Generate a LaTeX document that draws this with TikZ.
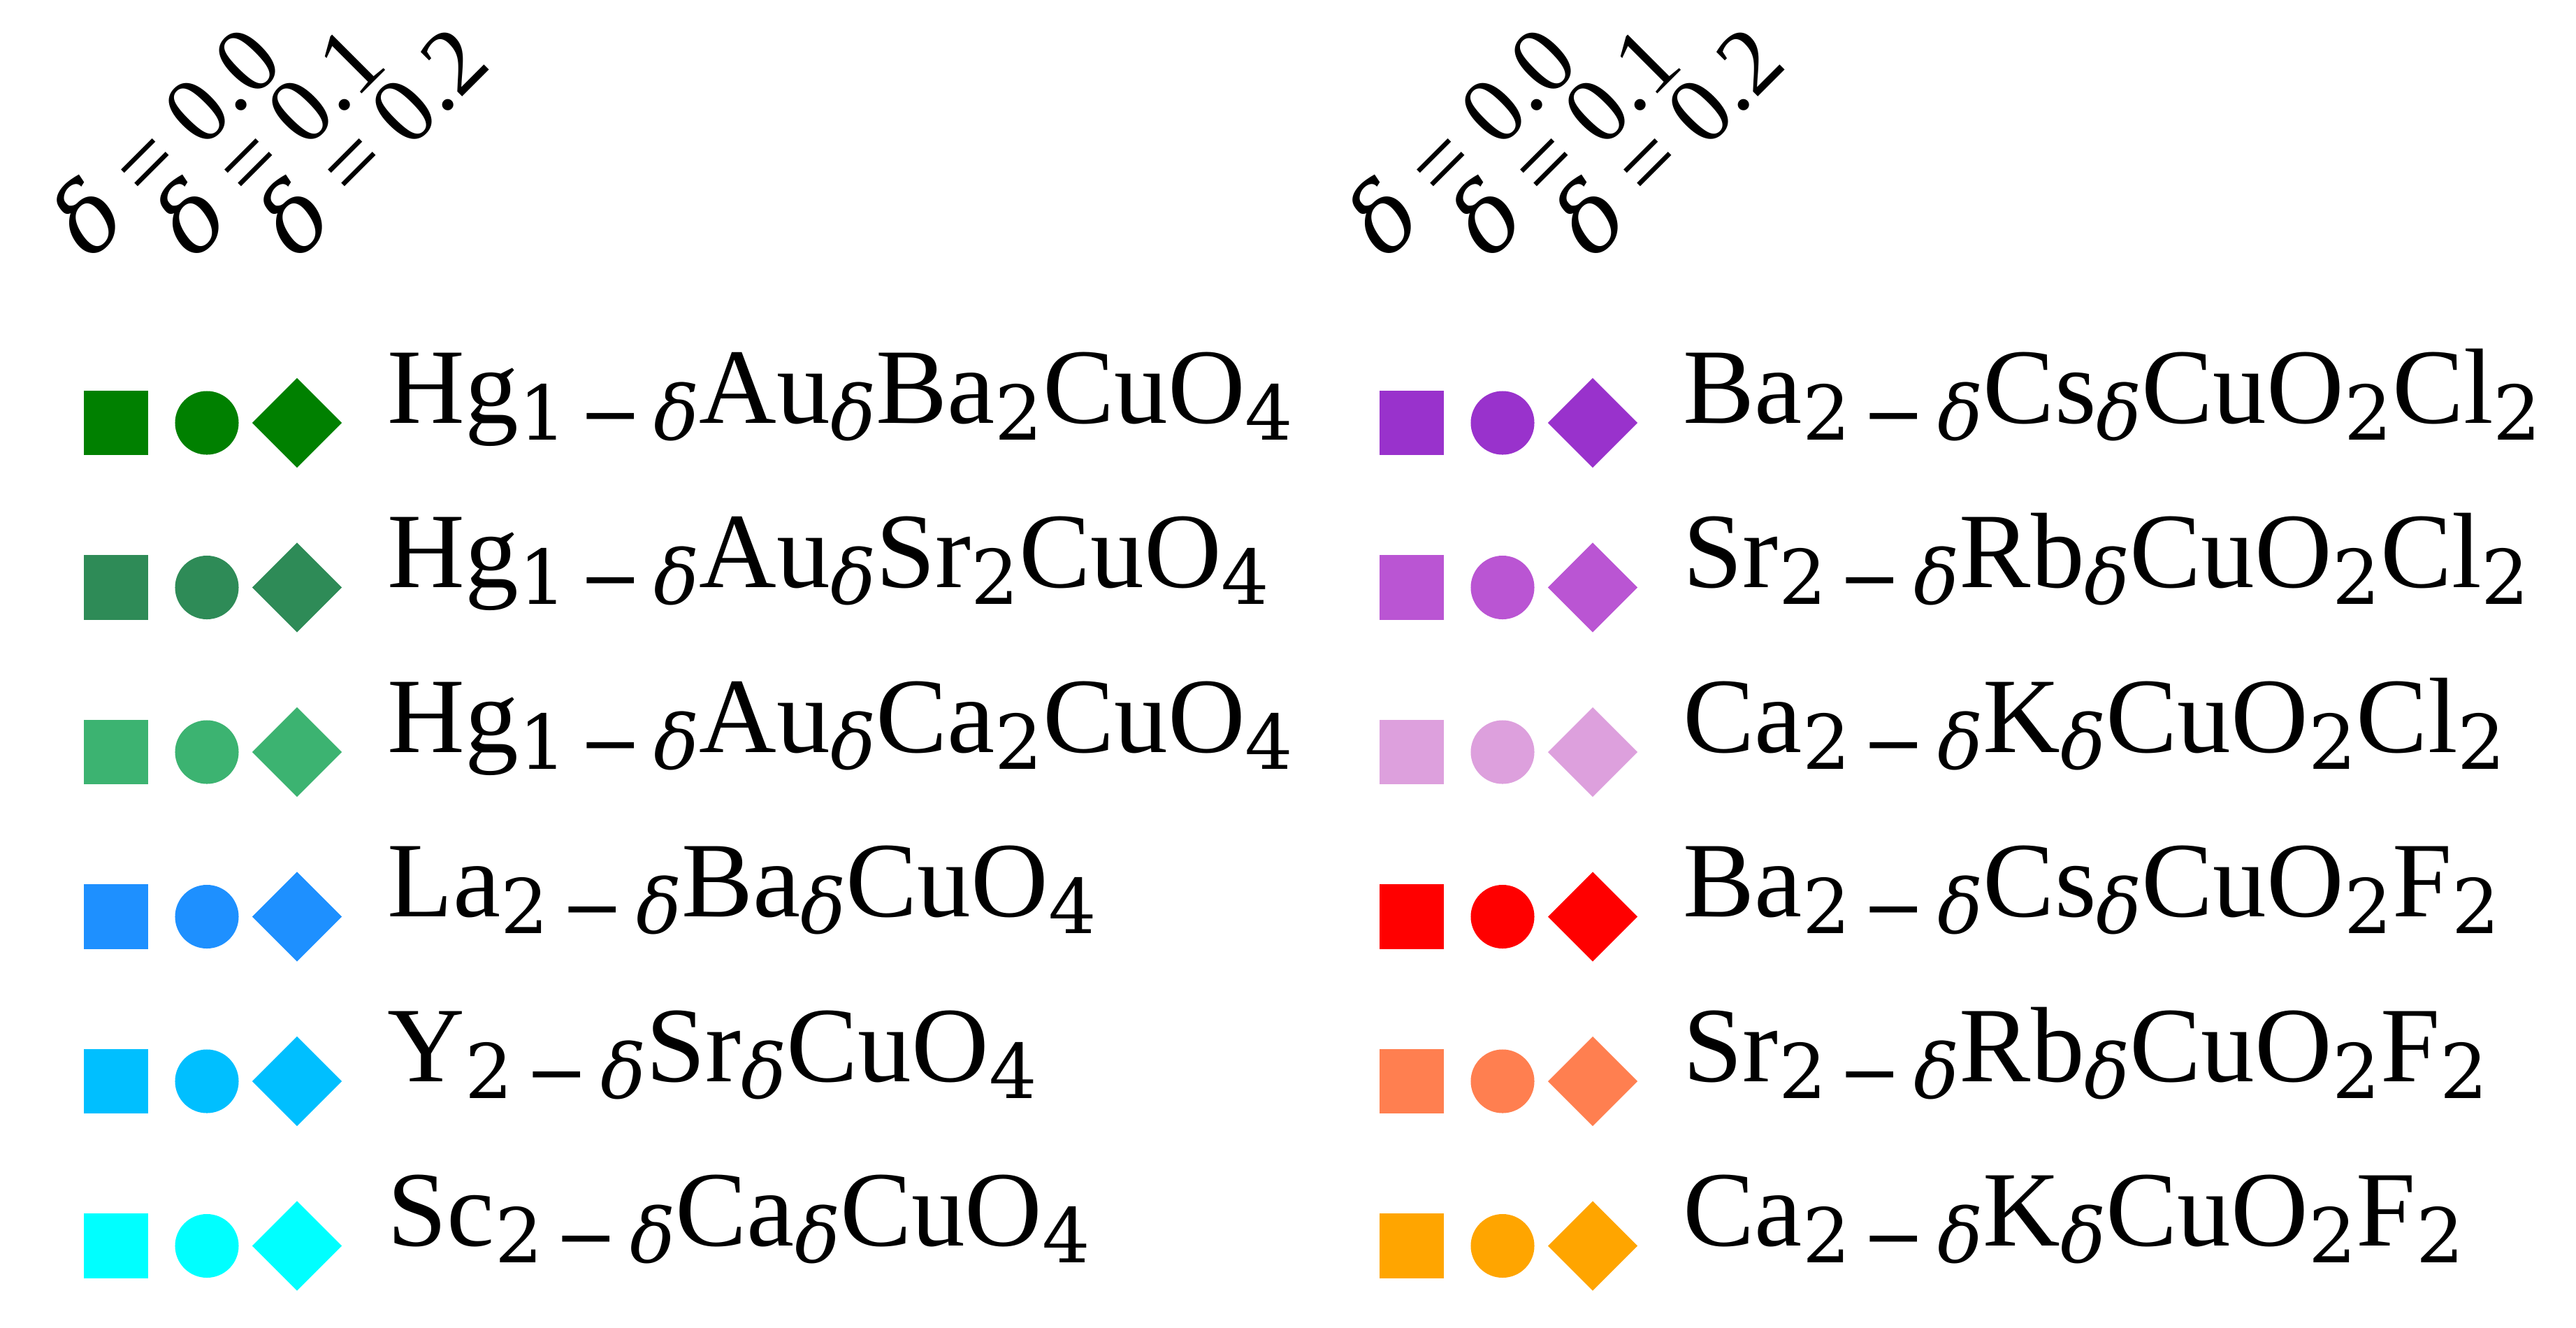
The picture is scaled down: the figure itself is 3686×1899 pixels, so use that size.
\documentclass[tikz,border=0pt]{standalone}
\usepackage{fontspec}
\setmainfont{Liberation Serif}
\newfontfamily\subf{DejaVu Serif}
\usetikzlibrary{shapes.geometric}
\definecolor{cGreen}{HTML}{008000}
\definecolor{cSeaGreen}{HTML}{2E8B57}
\definecolor{cMedSeaGreen}{HTML}{3CB371}
\definecolor{cDodger}{HTML}{1E90FF}
\definecolor{cDeepSky}{HTML}{00BFFF}
\definecolor{cCyan}{HTML}{00FFFF}
\definecolor{cDarkOrchid}{HTML}{9932CC}
\definecolor{cMedOrchid}{HTML}{BA55D3}
\definecolor{cPlum}{HTML}{DDA0DD}
\definecolor{cRed}{HTML}{FF0000}
\definecolor{cCoral}{HTML}{FF7F50}
\definecolor{cOrange}{HTML}{FFA500}
\newcommand\sbs[1]{\raisebox{-6.9pt}{\subf\fontsize{30.7pt}{31pt}\selectfont #1}}
\newcommand\dlt{{\itshape δ}}
\newcommand\hdl{{\subf\itshape δ}}
\newcommand\mns{\kern0.16em−\kern0.16em}
\tikzset{
  mk/.style={fill=#1, draw=none, inner sep=0pt, outer sep=0pt},
  sqm/.style={mk=#1, rectangle, minimum size=0.92cm},
  cim/.style={mk=#1, circle, minimum size=0.91cm},
  dim/.style={mk=#1, diamond, aspect=1, minimum width=1.28cm, minimum height=1.28cm},
  lbl/.style={anchor=base west, inner sep=0pt, font=\fontsize{43.6pt}{50pt}\selectfont},
  hdr/.style={anchor=base west, inner sep=0pt, rotate=45, font=\fontsize{38.5pt}{40pt}\selectfont},
}
\begin{document}
\begin{tikzpicture}[x=0.01cm,y=-0.01cm]
\path[use as bounding box, fill=white] (0,0) rectangle (3686,1899);
\foreach \k/\xo in {L/0, R/1854}{
  \node[hdr] (h\k0) at (130+\xo,374) {\hdl\ = 0.0};
  \node[hdr] (h\k1) at (278+\xo,374) {\hdl\ = 0.1};
  \node[hdr] (h\k2) at (426+\xo,374) {\hdl\ = 0.2};
}
\foreach \i/\c/\t in {
  0/cGreen/{Hg\sbs{1\mns\dlt}Au\sbs{\dlt}Ba\sbs{2}CuO\sbs{4}},
  1/cSeaGreen/{Hg\sbs{1\mns\dlt}Au\sbs{\dlt}Sr\sbs{2}CuO\sbs{4}},
  2/cMedSeaGreen/{Hg\sbs{1\mns\dlt}Au\sbs{\dlt}Ca\sbs{2}CuO\sbs{4}},
  3/cDodger/{La\sbs{2\mns\dlt}Ba\sbs{\dlt}CuO\sbs{4}},
  4/cDeepSky/{Y\sbs{2\mns\dlt}Sr\sbs{\dlt}CuO\sbs{4}},
  5/cCyan/{Sc\sbs{2\mns\dlt}Ca\sbs{\dlt}CuO\sbs{4}}}{
  \pgfmathsetmacro\yy{605+235.5*\i}
  \node[sqm=\c] (sqL\i) at (166,\yy) {};
  \node[cim=\c] (ciL\i) at (296,\yy) {};
  \node[dim=\c] (diL\i) at (425,\yy) {};
  \node[lbl] (lbL\i) at (554,\yy) {\t};
}
\foreach \i/\c/\t in {
  0/cDarkOrchid/{Ba\sbs{2\mns\dlt}Cs\sbs{\dlt}CuO\sbs{2}Cl\sbs{2}},
  1/cMedOrchid/{Sr\sbs{2\mns\dlt}Rb\sbs{\dlt}CuO\sbs{2}Cl\sbs{2}},
  2/cPlum/{Ca\sbs{2\mns\dlt}K\sbs{\dlt}CuO\sbs{2}Cl\sbs{2}},
  3/cRed/{Ba\sbs{2\mns\dlt}Cs\sbs{\dlt}CuO\sbs{2}F\sbs{2}},
  4/cCoral/{Sr\sbs{2\mns\dlt}Rb\sbs{\dlt}CuO\sbs{2}F\sbs{2}},
  5/cOrange/{Ca\sbs{2\mns\dlt}K\sbs{\dlt}CuO\sbs{2}F\sbs{2}}}{
  \pgfmathsetmacro\yy{605+235.5*\i}
  \node[sqm=\c] (sqR\i) at (2020,\yy) {};
  \node[cim=\c] (ciR\i) at (2150,\yy) {};
  \node[dim=\c] (diR\i) at (2279,\yy) {};
  \node[lbl] (lbR\i) at (2408,\yy) {\t};
}
\end{tikzpicture}
\end{document}
